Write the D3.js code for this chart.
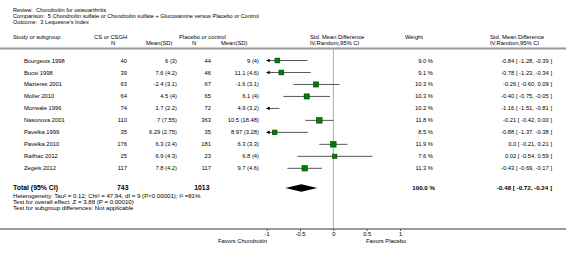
<!DOCTYPE html>
<html>
	<head>
		<meta charset="UTF-8">
		<title></title>
		<script src="https://cdn.jsdelivr.net/npm/d3@7/dist/d3.min.js" type="text/javascript" charset="utf-8"></script>
		<style type="text/css">
			*{
				margin: 0;
				padding: 0;
			}
			body{
				background: #fff;
			}
			#mychart{
				width: 566px;
				height: 253px;
			}
			text{
				font-family: "Liberation Sans", Arial, sans-serif;
				white-space: pre;
			}
		</style>
	</head>
	<body>
		<div id="mychart"></div>
	</body>
</html>
<script type="text/javascript">
	var titleLines = [
		"Review:  Chondroitin for osteoarthritis",
		"Comparison:  5 Chondroitin sulfate or Chondroitin sulfate + Glucosamine versus Placebo or Control",
		"Outcome:  3 Lequesne's Index"
	];
	var studies = ["Bourgeois 1998","Bucsi 1998","Mazieres 2001","Moller 2010","Morreale 1996",
		"Nasonova 2001","Pavelka 1999","Pavelka 2010","Railhac 2012","Zegels 2012"];
	var csN = [40,39,63,64,74,110,35,176,25,117];
	var csMeanSD = ["6 (3)","7.6 (4.2)","-2.4 (3.1)","4.5 (4)","1.7 (2.2)","7 (7.55)","6.29 (2.75)","6.3 (3.4)","6.9 (4.3)","7.8 (4.2)"];
	var plN = [44,46,67,65,72,363,35,181,23,117];
	var plMeanSD = ["9 (4)","11.1 (4.6)","-1.6 (3.1)","6.1 (4)","4.9 (3.2)","10.5 (18.48)","8.97 (3.28)","6.3 (3.3)","6.8 (4)","9.7 (4.6)"];
	var weights = [9.0,9.1,10.3,10.3,10.2,11.8,8.5,11.9,7.6,11.3];
	var smd = [-0.84,-0.78,-0.26,-0.40,-1.16,-0.21,-0.88,0.0,0.02,-0.43];
	var ciLow = [-1.28,-1.23,-0.60,-0.75,-1.51,-0.42,-1.37,-0.21,-0.54,-0.69];
	var ciHigh = [-0.39,-0.34,0.09,-0.05,-0.81,0.00,-0.38,0.21,0.59,-0.17];
	var total = {csN: 743, plN: 1013, weight: 100.0, smd: -0.48, lo: -0.72, hi: -0.24};
	var footLines = [
		"Heterogeneity: Tau\u00b2 = 0.12; Chi\u00b2 = 47.94, df = 9 (P<0.00001); I\u00b2 =81%",
		"Test for overall effect: Z = 3.88 (P = 0.00010)",
		"Test for subgroup differences: Not applicable"
	];
	var tickValues = [-1,-0.5,0,0.5,1];
	var favorLabels = ["Favors Chondroitin","Favors Placebo"];

	drawForest("mychart");

	function fmt(v){
		if(v === 0) return "0.0";
		return v.toFixed(2);
	}
	function ciText(e,l,h){
		return fmt(e) + " [ " + l.toFixed(2) + ", " + h.toFixed(2) + " ]";
	}

	function drawForest(divId){
		var _W = 566, _H = 253;
		var _fs = 5.8;
		var _svg = d3.select("#" + divId)
			.append("svg")
			.attr("width",_W)
			.attr("height",_H);

		//x scale of the plot, clipped to [-1,1]
		var _x = d3.scaleLinear().domain([-1,1]).range([266.7,400]);
		//row position scale
		var _y = d3.scaleLinear().domain([0,studies.length-1]).range([60.5,168.3]);

		function txt(x,y,s,anchor,size,bold){
			return _svg.append("text")
				.attr("x",x)
				.attr("y",y)
				.attr("dy","0.35em")
				.attr("text-anchor",anchor || "start")
				.style("font-size",(size || _fs) + "px")
				.style("font-weight",bold ? "bold" : "normal")
				.attr("fill","#000")
				.text(s);
		}

		//title
		titleLines.forEach(function(s,i){
			txt(13,10.5 + i*6,s,"start",5.6);
		});

		//column headers
		txt(13,36.5,"Study or subgroup");
		txt(94,36.5,"CS or CSGH");
		txt(113,42.5,"N","middle");
		txt(146,42.5,"Mean(SD)");
		txt(179,36.5,"Placebo or control");
		txt(194,42.5,"N","middle");
		txt(221,42.5,"Mean(SD)");
		txt(310,36.5,"Std. Mean Difference");
		txt(310,42.5,"IV,Random,95% CI");
		txt(405,36.5,"Weight");
		txt(490,36.5,"Std. Mean Difference");
		txt(490,42.5,"IV,Random,95% CI");

		//rules
		_svg.append("line")
			.attr("x1",0).attr("x2",_W)
			.attr("y1",48.5).attr("y2",48.5)
			.attr("stroke","#999").attr("stroke-width",2);
		_svg.append("line")
			.attr("x1",0).attr("x2",_W)
			.attr("y1",229).attr("y2",229)
			.attr("stroke","#999").attr("stroke-width",2);
		//zero line
		_svg.append("line")
			.attr("x1",_x(0)).attr("x2",_x(0))
			.attr("y1",49.5).attr("y2",228)
			.attr("stroke","#aaa").attr("stroke-width",1);

		//study rows
		studies.forEach(function(s,i){
			var yy = _y(i);
			txt(24,yy,s);
			txt(127,yy,csN[i],"end");
			txt(177,yy,csMeanSD[i],"end");
			txt(211,yy,plN[i],"end");
			txt(259,yy,plMeanSD[i],"end");
			txt(433,yy,weights[i].toFixed(1) + " %","end");
			txt(552,yy,ciText(smd[i],ciLow[i],ciHigh[i]),"end");
		});

		var _g = _svg.append("g");
		//CI lines
		_g.selectAll(".ci")
			.data(studies)
			.enter()
			.append("line")
			.attr("class","ci")
			.attr("x1",function(d,i){ return _x(Math.max(ciLow[i],-1)); })
			.attr("x2",function(d,i){ return _x(Math.min(ciHigh[i],1)); })
			.attr("y1",function(d,i){ return _y(i); })
			.attr("y2",function(d,i){ return _y(i); })
			.attr("stroke","#555")
			.attr("stroke-width",1);
		//arrows for clipped intervals
		_g.selectAll(".arrow")
			.data(studies.filter(function(d,i){ return ciLow[i] < -1; }))
			.enter()
			.append("path")
			.attr("class","arrow")
			.attr("d",function(d){
				var i = studies.indexOf(d);
				var x0 = _x(-1), yy = _y(i);
				return "M" + (x0-0.5) + "," + yy + "L" + (x0+3) + "," + (yy-1.8) + "L" + (x0+3) + "," + (yy+1.8) + "Z";
			})
			.attr("fill","#000");
		//squares, area ~ weight
		var _k = 1.6;
		_g.selectAll(".sq")
			.data(studies.filter(function(d,i){ return smd[i] >= -1 && smd[i] <= 1; }))
			.enter()
			.append("rect")
			.attr("class","sq")
			.attr("width",function(d){ return _k*Math.sqrt(weights[studies.indexOf(d)]); })
			.attr("height",function(d){ return _k*Math.sqrt(weights[studies.indexOf(d)]); })
			.attr("x",function(d){
				var i = studies.indexOf(d);
				return _x(smd[i]) - _k/2*Math.sqrt(weights[i]);
			})
			.attr("y",function(d){
				var i = studies.indexOf(d);
				return _y(i) - _k/2*Math.sqrt(weights[i]);
			})
			.attr("fill","#008000")
			.attr("stroke","#004000")
			.attr("stroke-width",0.6);

		//total row
		var _ty = 188;
		txt(13,_ty,"Total (95% CI)","start",6.9,true);
		txt(128.5,_ty,total.csN,"end",6.9,true);
		txt(209.5,_ty,total.plN,"end",6.9,true);
		txt(435,_ty,total.weight.toFixed(1) + " %","end",6.2,true);
		txt(552,_ty,ciText(total.smd,total.lo,total.hi),"end",6.2,true);
		_svg.append("path")
			.attr("d","M" + _x(total.lo) + "," + _ty +
				"L" + _x(total.smd) + "," + (_ty-3.7) +
				"L" + _x(total.hi) + "," + _ty +
				"L" + _x(total.smd) + "," + (_ty+3.7) + "Z")
			.attr("fill","#000");

		footLines.forEach(function(s,i){
			txt(13,196 + i*5.8,s,"start",6.1);
		});

		//axis
		var _axis = d3.axisBottom(_x)
			.tickValues(tickValues)
			.tickSize(2)
			.tickFormat(function(d){ return String(d); });
		var _ga = _svg.append("g")
			.attr("transform","translate(0,229)")
			.call(_axis);
		_ga.select(".domain").remove();
		_ga.selectAll("line").attr("stroke","#555");
		_ga.selectAll("text")
			.attr("y",3)
			.attr("dy","0.71em")
			.style("font-size",_fs + "px")
			.style("font-family","Liberation Sans, Arial, sans-serif")
			.attr("fill","#000");

		txt(267,240.5,favorLabels[0],"end");
		txt(366,240.5,favorLabels[1],"start");
	}
</script>
